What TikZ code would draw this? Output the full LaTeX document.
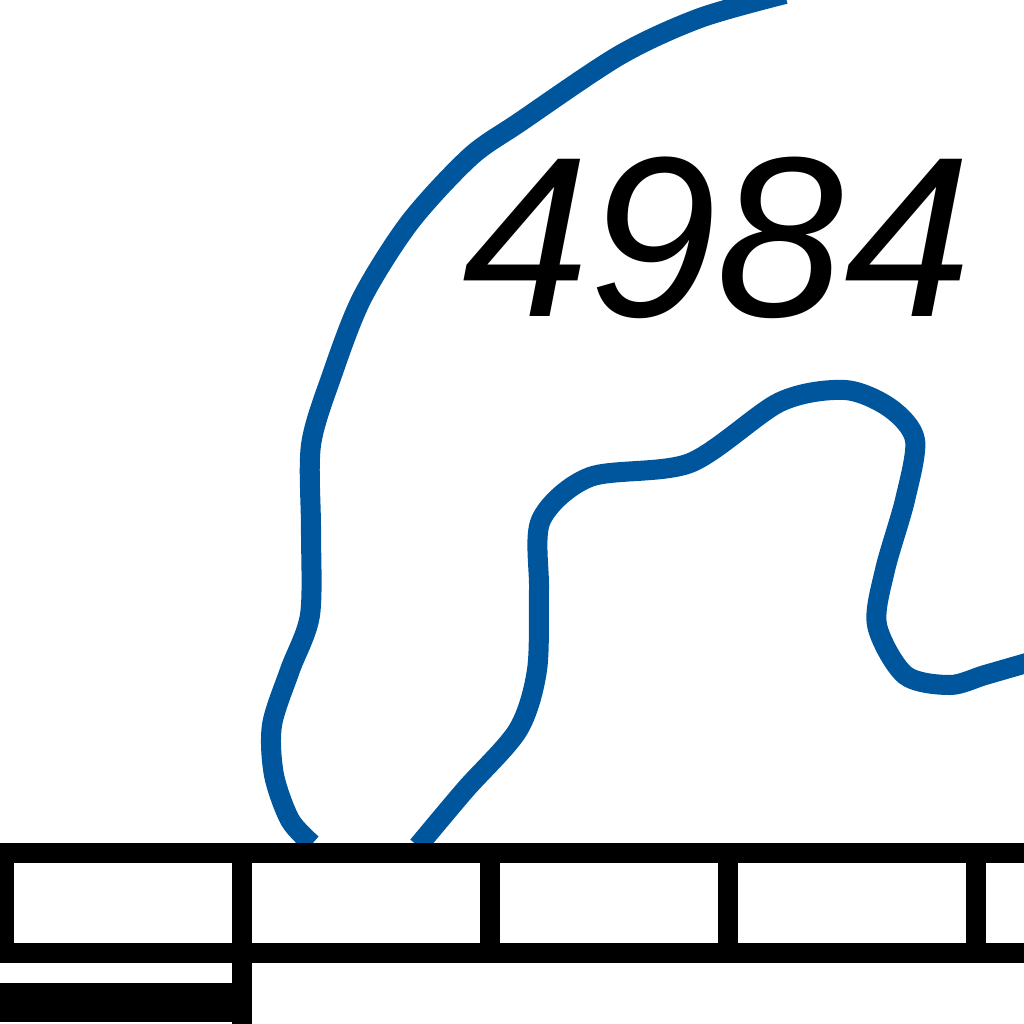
\documentclass[tikz,border=0pt]{standalone}
\usepackage{xcolor}
\usepackage{fontspec}
\setmainfont{Liberation Sans}
\definecolor{curveblue}{HTML}{00569D}

\begin{document}
\begin{tikzpicture}[
    x=0.01cm, y=-0.01cm,
    curve/.style={draw=curveblue, line width=0.2cm, line join=round},
    rail/.style={fill=black},
    number/.style={font=\itshape\fontsize{65}{65}\selectfont, inner sep=0pt, text=black}
]

\useasboundingbox (0,0) rectangle (1024,1024);
\clip (0,0) rectangle (1024,1024);

% Outer curve
\draw[curve] plot[smooth, tension=0.5] coordinates {(785,-6) (700,18) (620,55) (520,122) (470,157) (410,222) (362,298) (332,375) (311,445) (311,530) (310,615) (290,670) (272,725) (274,775) (290,820) (312,844)};

% Inner curve
\draw[curve] plot[smooth, tension=0.5] coordinates {(418,846) (465,790) (518,730) (537,670) (539,590) (541,520) (590,477) (690,463) (780,402) (845,390) (890,408) (915,440) (905,500) (885,570) (877,625) (905,675) (950,685) (985,675) (1030,662)};

% Number
\node[number] (digits) at (717,238) {4984};

% Rails
\fill[rail] (0,843) rectangle (1024,863);
\fill[rail] (0,943) rectangle (1024,963);
\fill[rail] (0,843) rectangle (14,963);
\foreach \xpos in {232,480,718,966} {
    \fill[rail] (\xpos,843) rectangle (\xpos+20,963);
}

% Bar below
\fill[rail] (232,963) rectangle (252,1024);
\fill[rail] (0,983) rectangle (252,1022);

\end{tikzpicture}
\end{document}
